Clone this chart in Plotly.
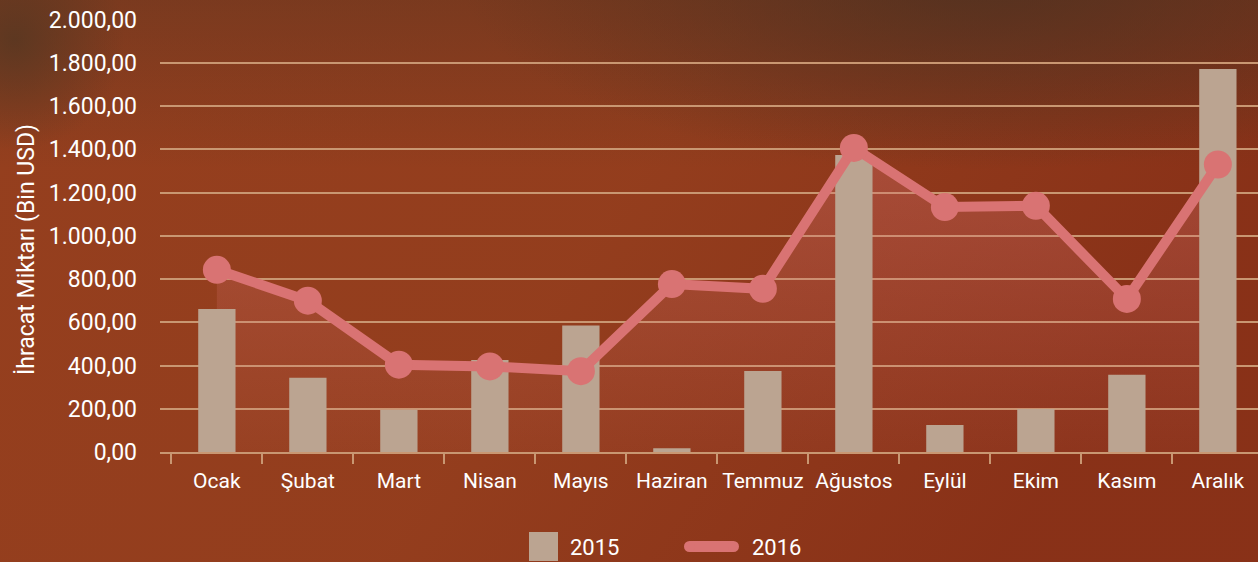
import base64
import plotly.graph_objects as go

# ---------------- data ----------------
months = ["Ocak", "Şubat", "Mart", "Nisan", "Mayıs", "Haziran",
          "Temmuz", "Ağustos", "Eylül", "Ekim", "Kasım", "Aralık"]
v2015 = [662, 343, 195, 426, 585, 17, 375, 1374, 125, 199, 357, 1772]
v2016 = [843, 700, 404, 396, 374, 777, 755, 1407, 1133, 1139, 708, 1330]
series_names = ["2015", "2016"]
y_title = "İhracat Miktarı (Bin USD)"

# ---------------- style ----------------
W, H = 1258, 562
FONT = "Roboto"
BAR_C = "#bba491"
LINE_C = "#d97373"
GRID_C = "#c99772"
TXT_C = "#ffffff"

def px(x):
    return x / W

def py(y):
    return 1 - y / H

svg = f'''<svg xmlns="http://www.w3.org/2000/svg" width="{W}" height="{H}" viewBox="0 0 {W} {H}" preserveAspectRatio="none">
<defs>
<linearGradient id="side" x1="0" y1="0" x2="1" y2="0.3">
<stop offset="0" stop-color="#7a2010" stop-opacity="0"/>
<stop offset="0.55" stop-color="#7a2010" stop-opacity="0.05"/>
<stop offset="1" stop-color="#7a2010" stop-opacity="0.45"/>
</linearGradient>
<linearGradient id="top" x1="0" y1="0" x2="0" y2="1">
<stop offset="0" stop-color="#5a3420" stop-opacity="0.45"/>
<stop offset="0.3" stop-color="#5a3420" stop-opacity="0"/>
</linearGradient>
<radialGradient id="tr" cx="0.5" cy="0.5" r="0.5">
<stop offset="0" stop-color="#4a3020" stop-opacity="0.75"/>
<stop offset="1" stop-color="#4a3020" stop-opacity="0"/>
</radialGradient>
<radialGradient id="tl" cx="0.5" cy="0.5" r="0.5">
<stop offset="0" stop-color="#4e3622" stop-opacity="0.7"/>
<stop offset="1" stop-color="#4e3622" stop-opacity="0"/>
</radialGradient>
</defs>
<rect x="0" y="0" width="{W}" height="{H}" fill="#953f1e"/>
<rect x="0" y="0" width="{W}" height="{H}" fill="url(#side)"/>
<rect x="0" y="0" width="{W}" height="{H}" fill="url(#top)"/>
<ellipse cx="980" cy="-20" rx="520" ry="190" fill="url(#tr)"/>
<ellipse cx="15" cy="40" rx="110" ry="110" fill="url(#tl)"/>
</svg>'''
bg_src = "data:image/svg+xml;base64," + base64.b64encode(svg.encode("utf-8")).decode()

fig = go.Figure()

# translucent gradient area under the 2016 line (drawn lowest)
fig.add_trace(go.Scatter(
    x=months, y=v2016, mode="none", fill="tozeroy",
    fillgradient=dict(type="vertical",
                      colorscale=[[0, "rgba(217,115,115,0.06)"], [1, "rgba(217,115,115,0.34)"]],
                      start=0, stop=1400),
    hoverinfo="skip", showlegend=False, xaxis="x", yaxis="y"))

# 2015 bars (overlay axes so they sit above the area)
fig.add_trace(go.Bar(
    x=months, y=v2015, name=series_names[0], marker=dict(color=BAR_C, line=dict(width=0)),
    width=0.41, showlegend=False, xaxis="x2", yaxis="y2"))

# 2016 line with markers (top)
fig.add_trace(go.Scatter(
    x=months, y=v2016, name=series_names[1], mode="lines+markers",
    line=dict(color=LINE_C, width=10),
    marker=dict(color=LINE_C, size=28, line=dict(width=0)),
    showlegend=False, xaxis="x3", yaxis="y3"))

xdom = [px(160), 1.0]
ydom = [py(452), py(19.7)]
xr = [-0.625, 11.441]
yr = [0, 2000]

common_hidden_x = dict(domain=xdom, range=xr, type="category", categoryorder="array",
                       categoryarray=months, visible=False, overlaying="x", automargin=False)
common_hidden_y = dict(domain=ydom, range=yr, visible=False, overlaying="y", automargin=False)

shapes = [
    # legend: 2015 square
    dict(type="rect", xref="paper", yref="paper", x0=px(529), x1=px(558), y0=py(561), y1=py(532),
         fillcolor=BAR_C, line=dict(width=0)),
    # legend: 2016 line with rounded ends
    dict(type="line", xref="paper", yref="paper", x0=px(689.5), x1=px(733.5), y0=py(546.5), y1=py(546.5),
         line=dict(color=LINE_C, width=11)),
    dict(type="circle", xref="paper", yref="paper", xsizemode="pixel", ysizemode="pixel",
         xanchor=px(689.5), yanchor=py(546.5), x0=-5.5, x1=5.5, y0=-5.5, y1=5.5,
         fillcolor=LINE_C, line=dict(width=0)),
    dict(type="circle", xref="paper", yref="paper", xsizemode="pixel", ysizemode="pixel",
         xanchor=px(733.5), yanchor=py(546.5), x0=-5.5, x1=5.5, y0=-5.5, y1=5.5,
         fillcolor=LINE_C, line=dict(width=0)),
]

annotations = [
    dict(text=y_title, xref="paper", yref="paper", x=px(26), y=py(250), textangle=-90,
         showarrow=False, font=dict(family=FONT, size=23, color=TXT_C),
         xanchor="center", yanchor="middle"),
    dict(text=series_names[0], xref="paper", yref="paper", x=px(568), y=py(547),
         showarrow=False, font=dict(family=FONT, size=22, color=TXT_C),
         xanchor="left", yanchor="middle"),
    dict(text=series_names[1], xref="paper", yref="paper", x=px(750), y=py(547),
         showarrow=False, font=dict(family=FONT, size=22, color=TXT_C),
         xanchor="left", yanchor="middle"),
]

fig.update_layout(
    width=W, height=H,
    margin=dict(l=0, r=0, t=0, b=0),
    template="none",
    paper_bgcolor="#953f1e",
    plot_bgcolor="rgba(0,0,0,0)",
    separators=",.",
    showlegend=False,
    font=dict(family=FONT, size=21, color=TXT_C),
    images=[dict(source=bg_src, xref="paper", yref="paper", x=0, y=1, sizex=1, sizey=1,
                 sizing="stretch", layer="below", xanchor="left", yanchor="top")],
    xaxis=dict(domain=xdom, range=xr, type="category", categoryorder="array", categoryarray=months,
               showgrid=False, zeroline=False, showline=True, linecolor=GRID_C, linewidth=1.5,
               ticks="outside", tickson="boundaries", ticklen=10, tickwidth=1.5, tickcolor=GRID_C,
               ticklabelstandoff=9, tickangle=0,
               tickfont=dict(family=FONT, size=21, color=TXT_C), automargin=False),
    yaxis=dict(domain=ydom, range=yr, dtick=200, tick0=0, tickformat=",.2f",
               showgrid=True, gridcolor=GRID_C, gridwidth=1.5, zeroline=False, showline=False,
               ticks="", ticklabelstandoff=22,
               tickfont=dict(family=FONT, size=23, color=TXT_C), automargin=False),
    xaxis2=dict(**common_hidden_x, matches="x"),
    yaxis2=dict(**common_hidden_y, matches="y"),
    xaxis3=dict(**common_hidden_x, matches="x"),
    yaxis3=dict(**common_hidden_y, matches="y"),
    shapes=shapes,
    annotations=annotations,
)

fig.write_html("out.html", config={"displayModeBar": False},
               post_script="document.body.style.margin='0';document.body.style.overflow='hidden';")
